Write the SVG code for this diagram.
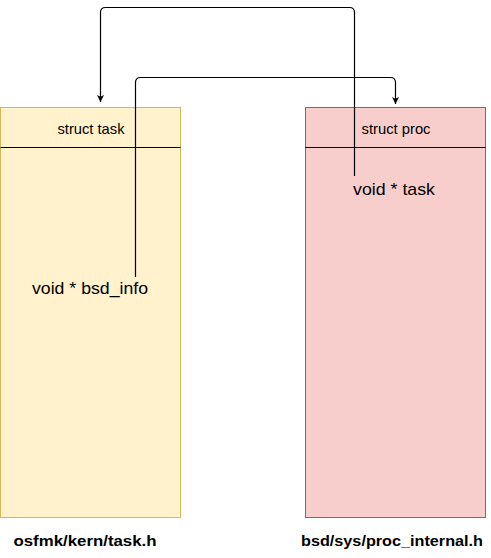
<svg xmlns="http://www.w3.org/2000/svg" width="491" height="558" viewBox="0 0 491 558">
<style>
.lbl{font-family:"Liberation Sans",Arial,Helvetica,sans-serif;fill:#000;text-anchor:middle}
.hdr{font-size:14.5px}
.fld{font-size:17px}
.file{font-size:15px;font-weight:bold}
.conn{fill:none;stroke:#000;stroke-width:1.2}
</style>
<defs>
<marker id="arr" markerUnits="userSpaceOnUse" viewBox="0 0 8 8" markerWidth="7" markerHeight="7" refX="8" refY="4" orient="auto">
<path d="M0,0 L8,4 L0,8 L2,4 z" fill="#000"/>
</marker>
</defs>
<g id="task">
<rect x="0.5" y="107.5" width="180" height="410" fill="#fff2cc" stroke="#d6b656"/>
<line x1="0.5" y1="147.5" x2="180.5" y2="147.5" stroke="#000"/>
<text class="lbl hdr" x="91" y="134" textLength="67" lengthAdjust="spacingAndGlyphs">struct task</text>
<text class="lbl fld" x="90" y="294" textLength="116" lengthAdjust="spacingAndGlyphs">void * bsd_info</text>
</g>
<g id="proc">
<rect x="305.5" y="107.5" width="180" height="410" fill="#f8cecc" stroke="#b85450"/>
<line x1="305.5" y1="147.5" x2="485.5" y2="147.5" stroke="#000"/>
<text class="lbl hdr" x="396" y="134" textLength="69" lengthAdjust="spacingAndGlyphs">struct proc</text>
<text class="lbl fld" x="394" y="195" textLength="82" lengthAdjust="spacingAndGlyphs">void * task</text>
</g>
<g id="file-task">
<text class="lbl file" x="85" y="545.5" textLength="143" lengthAdjust="spacingAndGlyphs">osfmk/kern/task.h</text>
</g>
<g id="file-proc">
<text class="lbl file" x="392" y="545.5" textLength="182" lengthAdjust="spacingAndGlyphs">bsd/sys/proc_internal.h</text>
</g>
<g id="connectors">
<path class="conn" d="M354.5,176 L354.5,12.5 Q354.5,7.5 349.5,7.5 L105.5,7.5 Q100.5,7.5 100.5,12.5 L100.5,102" marker-end="url(#arr)"/>
<path class="conn" d="M135.5,277 L135.5,82.5 Q135.5,77.5 140.5,77.5 L390.5,77.5 Q395.5,77.5 395.5,82.5 L395.5,104" marker-end="url(#arr)"/>
</g>
</svg>
